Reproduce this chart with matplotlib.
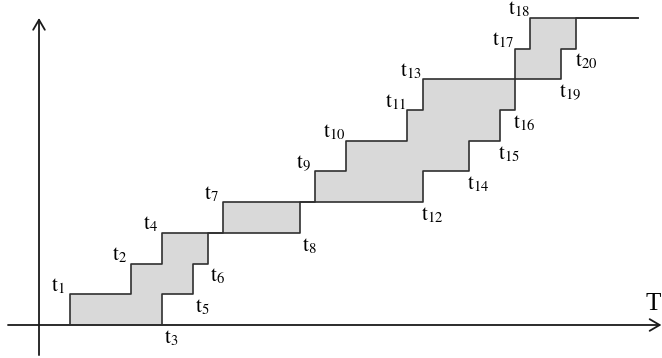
import matplotlib
matplotlib.use("Agg")
import matplotlib.pyplot as plt
from matplotlib.patches import FancyArrowPatch
import numpy as np

# instantes de chegada (subida da curva superior) e partida (curva inferior)
up_times = [2, 6, 8, 12, 18, 20, 24, 25, 31, 32]
up_labels = ["1", "2", "4", "7", "9", "10", "11", "13", "17", "18"]
down_times = [8, 10, 11, 17, 25, 28, 30, 31, 34, 35]
down_labels = ["3", "5", "6", "8", "12", "14", "15", "16", "19", "20"]
t_end = 39

plt.rcParams["mathtext.fontset"] = "stix"

fig = plt.figure(figsize=(6.62, 3.58), dpi=100)
ax = fig.add_axes([0, 0, 1, 1])
ax.set_xlim(-2.541, 40.586)
ax.set_ylim(-1.075, 10.586)
ax.axis("off")

# curvas em degrau
xs = np.array(sorted(set(up_times + down_times + [t_end])))
upper = np.array([np.sum(np.array(up_times) <= x) for x in xs])
lower = np.array([np.sum(np.array(down_times) <= x) for x in xs])
xs_full = np.concatenate([[up_times[0]], xs])
upper_full = np.concatenate([[0], upper])
lower_full = np.concatenate([[0], lower])

ax.fill_between(xs_full, lower_full, upper_full, step="post",
                color="#d9d9d9", lw=0)
ax.step(xs_full, upper_full, where="post", color="#303030", lw=1.2)
ax.step(xs_full, lower_full, where="post", color="#303030", lw=1.2)

# eixos com seta
for start, end in [((-2.02, 0), (40.55, 0)), ((0, -0.98), (0, 10.0))]:
    arr = FancyArrowPatch(start, end, arrowstyle="->,head_length=0.72,head_width=0.42",
                          mutation_scale=10, color="#1a1a1a", lw=1.3,
                          shrinkA=0, shrinkB=0)
    ax.add_patch(arr)

ax.text(646 / 662, 1 - 310.5 / 358, "T", transform=ax.transAxes,
        ha="left", va="baseline", fontsize=18, family="Liberation Serif")

# rótulos t_i
for i, (t, lab) in enumerate(zip(up_times, up_labels)):
    ax.annotate(r"$\mathrm{t}_{%s}$" % lab, (t, i + 1), xytext=(-11.5, 8.5),
                textcoords="offset pixels", ha="center", va="center",
                fontsize=15)
for i, (t, lab) in enumerate(zip(down_times, down_labels)):
    ax.annotate(r"$\mathrm{t}_{%s}$" % lab, (t, i), xytext=(9.5, -12.8),
                textcoords="offset pixels", ha="center", va="center",
                fontsize=15)

fig.savefig("out.png", dpi=100)
